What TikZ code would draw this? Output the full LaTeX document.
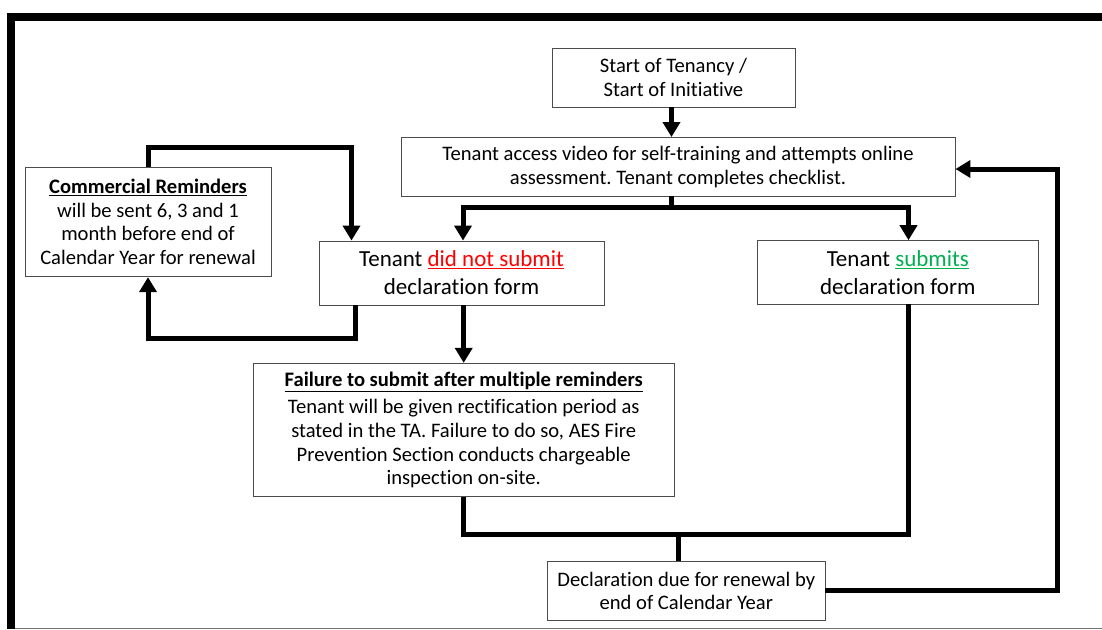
\documentclass[tikz,border=0pt]{standalone}
\usepackage{fontspec}
\setmainfont{Carlito}[Ligatures=NoCommon]
\usetikzlibrary{arrows.meta}
\definecolor{okgreen}{RGB}{0,176,80}
\frenchspacing
\begin{document}
\begin{tikzpicture}[x=1pt,y=-1pt,
  box/.style={draw=black!70, line width=0.9pt, fill=white, inner sep=0pt, align=center, font=\fontsize{20.6}{23.6}\selectfont},
  bigbox/.style={box, font=\fontsize{23}{28}\selectfont},
  conn/.style={line width=5pt, line join=miter},
  arr/.style={conn, -{Triangle[width=17pt,length=15pt]}},
  frame/.style={line width=8pt, line join=miter}]
\useasboundingbox (0,0) rectangle (1102,629);
% frame
\draw[frame] (10.85,629) -- (10.85,16.7) -- (1102,16.7);
\draw[black!55, line width=1pt] (15,628.3) -- (1102,628.3);
% nodes
\node[box, minimum width=243pt, minimum height=59pt] (start) at (673.5,77.5) {Start of Tenancy /\\Start of Initiative};
\node[box, minimum width=554pt, minimum height=58.5pt] (access) at (678,166.75) {Tenant access video for self-training and attempts online\\assessment. Tenant completes checklist.};
\node[box, minimum width=246pt, minimum height=109.4pt] (comm) at (148,222) {\textbf{\underline{Commercial Reminders}}\\will be sent 6, 3 and 1\\month before end of\\Calendar Year for renewal};
\node[bigbox, minimum width=285pt, minimum height=64pt] (dns) at (461.5,273) {Tenant {\color{red}\underline{did not submit}}\\declaration form};
\node[bigbox, minimum width=281pt, minimum height=63.3pt] (sub) at (897.8,272.3) {Tenant {\color{okgreen}\underline{submits}}\\declaration form};
\node[box, minimum width=420.7pt, minimum height=133.4pt] (fail) at (463.7,430) {\textbf{\underline{Failure to submit after multiple reminders}}\\[4pt]Tenant will be given rectification period as\\stated in the TA. Failure to do so, AES Fire\\Prevention Section conducts chargeable\\inspection on-site.};
\node[box, minimum width=277.3pt, minimum height=58.3pt] (decl) at (686.3,590.8) {Declaration due for renewal by\\end of Calendar Year};
% connectors
\coordinate (j1) at (671.5,207);
\coordinate (bl) at (463,207);
\coordinate (br) at (908.5,207);
\draw[arr] (start.south -| j1) -- (access.north -| j1);
\draw[conn] (access.south -| j1) -- (j1);
\draw[conn, {Triangle[width=17pt,length=15pt]}-{Triangle[width=17pt,length=15pt]}] (bl |- dns.north) -- (bl) -- (br) -- (br |- sub.north);
\coordinate (c1) at (351.5,147);
\draw[arr] (comm.north) |- (c1) -- (c1 |- dns.north);
\coordinate (c2) at (355.5,338);
\draw[arr] (c2 |- dns.south) -- (c2) -| (comm.south);
\draw[arr] (dns.south -| fail.north) -- (fail.north);
\coordinate (c3) at (908.5,534);
\draw[conn] (fail.south) |- (c3) -- (c3 |- sub.south);
\coordinate (c4) at (678,534);
\draw[conn] (c4) -- (c4 |- decl.north);
\coordinate (c5) at (1057,169);
\draw[arr] (decl.east) -| (c5) -- (c5 -| access.east);
\end{tikzpicture}
\end{document}
